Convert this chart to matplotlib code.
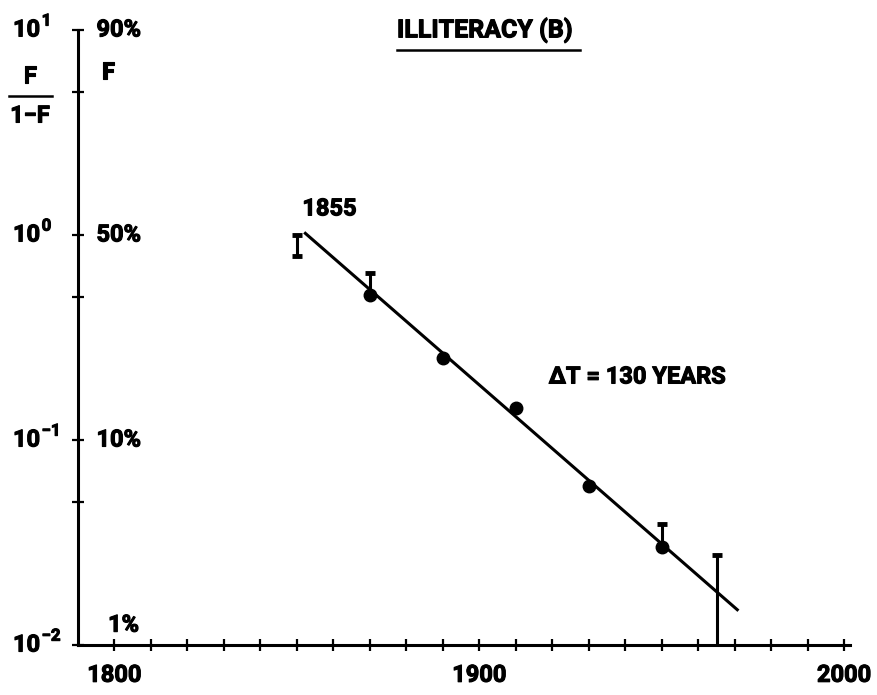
import matplotlib
matplotlib.use("Agg")
import matplotlib.pyplot as plt
import matplotlib.patheffects as pe
from matplotlib.text import Text
from matplotlib.ticker import FixedLocator, NullLocator
from matplotlib.font_manager import FontProperties

# data
pt_years = [1870, 1890, 1910, 1930, 1950]
pt_vals = [0.51, 0.251, 0.143, 0.0597, 0.030]

eb_years = [1850, 1870, 1950, 1965]
eb_low = [0.79, 0.51, 0.030, 0.01]
eb_high = [1.0, 0.653, 0.0389, 0.0275]
eb_lowcap = [True, False, False, False]

fit_years = [1852, 1971]
fit_vals = [1.03, 0.0147]

x_ticks = list(range(1800, 2001, 10))
x_labels = ['1800', '1900', '2000']
y_major = [0.01, 0.1, 1.0, 10.0]
y_minor = [0.05, 0.5, 5.0]
ratio_exps = ['\u22122', '\u22121', '0', '1']
pct_labels = ['1%', '10%', '50%', '90%']
pct_vals = [0.0125, 0.1, 1.0, 10.0]

FAM = ['Roboto', 'DejaVu Sans']
fp = FontProperties(family=FAM, weight='bold', size=17)
fp_title = FontProperties(family=FAM, weight='bold', size=18)
fp_sup = FontProperties(family=FAM, weight='bold', size=12)

fig = plt.figure(figsize=(8.77, 6.95), dpi=100)
ax = fig.add_axes([0.0889, 0.0719, 0.88, 0.885])
ax.set_yscale('log')
ax.set_xlim(1790, 2001.5)
ax.set_ylim(0.01, 10)

for s in ['top', 'right']:
    ax.spines[s].set_visible(False)
for s in ['left', 'bottom']:
    ax.spines[s].set_linewidth(2.2)

ax.xaxis.set_major_locator(FixedLocator(x_ticks))
ax.set_xticklabels([str(y) if str(y) in x_labels else '' for y in x_ticks], fontproperties=fp)
ax.xaxis.set_minor_locator(NullLocator())
ax.yaxis.set_major_locator(FixedLocator(y_major + y_minor))
ax.yaxis.set_minor_locator(NullLocator())
ax.set_yticklabels([])
ax.tick_params(axis='both', direction='inout', length=9, width=1.6, pad=9)

# fit line
ax.plot(fit_years, fit_vals, color='black', lw=2.2, solid_capstyle='butt')

# error bars
ax.vlines(eb_years, eb_low, eb_high, color='black', lw=2.2)
ax.plot(eb_years, eb_high, ls='none', marker='_', ms=7, mew=3.5, color='black')
ax.plot([y for y, c in zip(eb_years, eb_lowcap) if c],
        [v for v, c in zip(eb_low, eb_lowcap) if c],
        ls='none', marker='_', ms=7, mew=3.5, color='black')

# points
ax.plot(pt_years, pt_vals, ls='none', marker='o', ms=9, color='black')

# left labels: 10^n
ytr = ax.get_yaxis_transform()
for v, e in zip(y_major, ratio_exps):
    ax.text(-0.049, v, '10', transform=ytr, ha='right', va='center', fontproperties=fp)
    ax.annotate(e, (-0.047, v), xycoords=ytr, xytext=(0, 1), textcoords='offset points',
                ha='left', va='bottom', fontproperties=fp_sup)
for v, lab in zip(pct_vals, pct_labels):
    ax.text(0.024 if lab != '1%' else 0.039, v, lab, transform=ytr,
            ha='left', va='center', fontproperties=fp)
ax.text(0.031, 6.2, 'F', transform=ytr, ha='left', va='center', fontproperties=fp)

# F / (1-F) fraction
fig.text(30 / 877, 1 - 76 / 695, 'F', ha='center', va='center', fontproperties=fp)
fig.text(30 / 877, 1 - 116 / 695, '1\u2212F', ha='center', va='center', fontproperties=fp)
fig.add_artist(plt.Line2D([9 / 877, 52 / 877], [1 - 96 / 695] * 2, color='black', lw=1.8))

# annotations
ax.text(1851.5, 1.34, '1855', ha='left', va='center', fontproperties=fp)
ax.text(1919, 0.203, '\u0394T = 130 YEARS', ha='left', va='center', fontproperties=fp)

fig.text(485 / 877, 1 - 30 / 695, 'ILLITERACY (B)', ha='center', va='center', fontproperties=fp_title)
fig.add_artist(plt.Line2D([397 / 877, 580 / 877], [1 - 50 / 695] * 2, color='black', lw=1.8))

# heavier, photocopy-like lettering
for t in fig.findobj(Text):
    t.set_path_effects([pe.withStroke(linewidth=0.8, foreground='black')])

fig.savefig('out.png', dpi=100)
